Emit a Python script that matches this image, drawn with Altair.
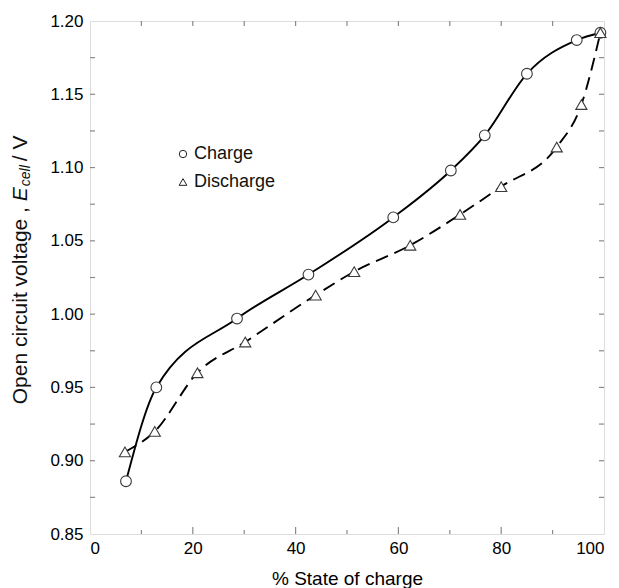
import altair as alt
import pandas as pd

# ---- data ----
charge_soc = [7.0, 12.9, 28.6, 42.5, 59.0, 70.2, 76.8, 85.0, 94.7, 99.3]
charge_v = [0.886, 0.950, 0.997, 1.027, 1.066, 1.098, 1.122, 1.164, 1.187, 1.192]
discharge_soc = [6.8, 12.6, 20.9, 30.2, 43.9, 51.4, 62.3, 72.0, 80.0, 90.8, 95.6, 99.3]
discharge_v = [0.906, 0.920, 0.960, 0.981, 1.013, 1.029, 1.047, 1.068, 1.087, 1.114, 1.143, 1.192]

x_label_values = [0, 20, 40, 60, 80, 100]
y_label_values = [0.85, 0.90, 0.95, 1.00, 1.05, 1.10, 1.15, 1.20]
x_major_ticks = [20, 40, 60, 80]
x_minor_ticks = [10, 30, 50, 70, 90]
x_top_ticks = [10, 20, 30, 40, 50, 60, 70, 80, 90]
y_ticks = [0.875, 0.90, 0.925, 0.95, 0.975, 1.00, 1.025, 1.05, 1.075, 1.10,
           1.125, 1.15, 1.175]
legend_labels = ["Charge", "Discharge"]
x_title = "% State of charge"
y_title_parts = ["Open circuit voltage , ", "E", "cell", " / V"]

W, H = 514, 513
FONT = "Liberation Sans"
FRAME = "#8a8a8a"

charge = pd.DataFrame({"soc": charge_soc, "v": charge_v})
discharge = pd.DataFrame({"soc": discharge_soc, "v": discharge_v})

X = alt.X("soc:Q", scale=alt.Scale(domain=[0, 100], nice=False, zero=False),
          axis=alt.Axis(values=x_label_values, ticks=False, domain=False, grid=False,
                        labelPadding=6, labelFontSize=17, format="d",
                        title=x_title, titleFontSize=19, titleFontWeight="normal",
                        titlePadding=13))
Y = alt.Y("v:Q", scale=alt.Scale(domain=[0.85, 1.20], nice=False, zero=False),
          axis=alt.Axis(values=y_label_values, ticks=False, domain=False, grid=False,
                        labelPadding=7, labelFontSize=17, format=".2f", title=None))

charge_line = alt.Chart(charge).mark_line(
    interpolate="monotone", color="black", strokeWidth=1.9
).encode(x=X, y=Y)
discharge_line = alt.Chart(discharge).mark_line(
    interpolate="monotone", color="black", strokeWidth=1.9, strokeDash=[13, 7]
).encode(x=X, y=Y)

charge_pts = alt.Chart(charge).mark_point(
    shape="circle", size=115, fill="white", fillOpacity=1, opacity=1,
    stroke="#3a3a3a", strokeWidth=1.1
).encode(x=X, y=Y)
discharge_pts = alt.Chart(discharge).mark_point(
    shape="triangle-up", size=125, fill="white", fillOpacity=1, opacity=1,
    stroke="#3a3a3a", strokeWidth=1.1
).encode(x=X, y=Y)

# inward ticks
tick_style = dict(color=FRAME, strokeWidth=1.2)
bx_major = alt.Chart(pd.DataFrame({"soc": x_major_ticks})).mark_rule(**tick_style).encode(
    x=X, y=alt.value(H), y2=alt.value(H - 7))
bx_minor = alt.Chart(pd.DataFrame({"soc": x_minor_ticks})).mark_rule(**tick_style).encode(
    x=X, y=alt.value(H), y2=alt.value(H - 4))
tx = alt.Chart(pd.DataFrame({"soc": x_top_ticks})).mark_rule(**tick_style).encode(
    x=X, y=alt.value(0), y2=alt.value(5))
ly = alt.Chart(pd.DataFrame({"v": y_ticks})).mark_rule(**tick_style).encode(
    y=Y, x=alt.value(0), x2=alt.value(5))
ry = alt.Chart(pd.DataFrame({"v": y_ticks})).mark_rule(**tick_style).encode(
    y=Y, x=alt.value(W), x2=alt.value(W - 5))

# legend (manual)
leg_c = alt.Chart(pd.DataFrame({"t": [legend_labels[0]]})).mark_point(
    shape="circle", size=55, fill="white", fillOpacity=1, opacity=1,
    stroke="#222", strokeWidth=1.0).encode(x=alt.value(93), y=alt.value(133))
leg_t = alt.Chart(pd.DataFrame({"t": [legend_labels[1]]})).mark_point(
    shape="triangle-up", size=60, fill="white", fillOpacity=1, opacity=1,
    stroke="#222", strokeWidth=1.0).encode(x=alt.value(93), y=alt.value(161))
leg_c_txt = alt.Chart(pd.DataFrame({"t": [legend_labels[0]]})).mark_text(
    align="left", baseline="middle", font=FONT, fontSize=18, color="#111").encode(
    x=alt.value(104), y=alt.value(133), text="t:N")
leg_t_txt = alt.Chart(pd.DataFrame({"t": [legend_labels[1]]})).mark_text(
    align="left", baseline="middle", font=FONT, fontSize=18, color="#111").encode(
    x=alt.value(104), y=alt.value(161), text="t:N")

# y title with italic E and subscript "cell"
fs = 21
fs_sub = 14
w1 = 9.671 * fs
w2 = 0.667 * fs + 1
w3 = 1.5 * fs_sub + 4
w4 = 1.501 * fs
total = w1 + w2 + w3 + w4
center = 246
y0 = center + total / 2
tx_x = -69


def ypart(txt, ypos, size, style="normal", dx=0):
    return alt.Chart(pd.DataFrame({"t": [txt]})).mark_text(
        angle=270, align="left", baseline="middle", font=FONT, fontSize=size,
        fontStyle=style, color="#111").encode(
        x=alt.value(tx_x + dx), y=alt.value(ypos), text="t:N")


yt1 = ypart(y_title_parts[0], y0, fs)
yt2 = ypart(y_title_parts[1], y0 - w1, fs, "italic")
yt3 = ypart(y_title_parts[2], y0 - w1 - w2, fs_sub, "italic", dx=5)
yt4 = ypart(y_title_parts[3], y0 - w1 - w2 - w3, fs)

chart = alt.layer(
    bx_major, bx_minor, tx, ly, ry,
    charge_line, discharge_line, charge_pts, discharge_pts,
    leg_c, leg_t, leg_c_txt, leg_t_txt,
    yt1, yt2, yt3, yt4,
).properties(
    width=W, height=H,
    autosize=alt.AutoSizeParams(type="none"),
    padding={"left": 82, "top": 13, "right": 7, "bottom": 60},
).configure_view(
    stroke=FRAME, strokeWidth=1.5
).configure_axis(
    labelFont=FONT, titleFont=FONT, labelColor="#111", titleColor="#111"
).configure(background="white")

chart.save("out.html", embed_options={"renderer": "svg", "actions": False})
